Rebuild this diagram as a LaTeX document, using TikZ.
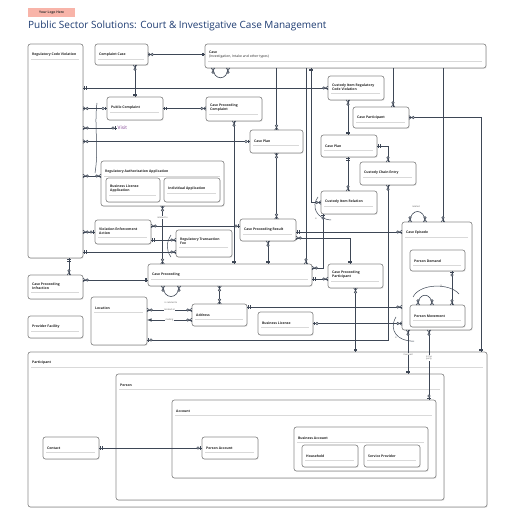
\documentclass[tikz,border=0pt]{standalone}
\usepackage{fontspec}
\setmainfont{Open Sans}
\usetikzlibrary{calc,shadows}

\definecolor{boxgray}{HTML}{8C8C8C}
\definecolor{linkgray}{HTML}{3E4756}
\definecolor{rulegray}{HTML}{D9D9D9}
\definecolor{titleblue}{HTML}{1E3C72}
\definecolor{logopink}{HTML}{F8B4A9}
\definecolor{visitpurple}{HTML}{7B3B8E}

%	crow's foot ends
\pgfarrowsdeclare{erone}{erone}
{\pgfarrowsleftextend{-3.5pt}\pgfarrowsrightextend{0pt}}
{\pgfsetdash{}{0pt}
 \pgfpathmoveto{\pgfpoint{-1.5pt}{1.7pt}}\pgfpathlineto{\pgfpoint{-1.5pt}{-1.7pt}}
 \pgfpathmoveto{\pgfpoint{-2.8pt}{1.7pt}}\pgfpathlineto{\pgfpoint{-2.8pt}{-1.7pt}}
 \pgfusepathqstroke}
\pgfarrowsdeclare{erzone}{erzone}
{\pgfarrowsleftextend{-5.5pt}\pgfarrowsrightextend{0pt}}
{\pgfsetdash{}{0pt}
 \pgfpathmoveto{\pgfpoint{-1.5pt}{1.7pt}}\pgfpathlineto{\pgfpoint{-1.5pt}{-1.7pt}}
 \pgfusepathqstroke
 \pgfsetfillcolor{white}
 \pgfpathcircle{\pgfpoint{-4pt}{0pt}}{1.2pt}
 \pgfusepathqfillstroke}
\pgfarrowsdeclare{erzmany}{erzmany}
{\pgfarrowsleftextend{-5.8pt}\pgfarrowsrightextend{0pt}}
{\pgfsetdash{}{0pt}
 \pgfpathmoveto{\pgfpoint{0pt}{1.8pt}}\pgfpathlineto{\pgfpoint{-2.6pt}{0pt}}
 \pgfpathlineto{\pgfpoint{0pt}{-1.8pt}}
 \pgfusepathqstroke
 \pgfsetfillcolor{white}
 \pgfpathcircle{\pgfpoint{-4.2pt}{0pt}}{1.2pt}
 \pgfusepathqfillstroke}

%	entity box: name, left, top, right, bottom, text
\newcommand{\erbox}[6]{%
  \node[erbox, anchor=north west, minimum width={#4-#2}, minimum height={#5-#3}] (#1) at (#2,#3) {};
  \node[ername, anchor=west] (#1-name) at ([xshift=4, yshift=-11]#1.north west) {#6};
  \draw[errule] ($(#1-name.south west)+(-1,2.4)$) -- ($(#1-name.south -| #1.east)+(-4,2.4)$);
}

\begin{document}
\begin{tikzpicture}[x=1pt, y=-1pt,
  erbox/.style={draw=boxgray, line width=0.7, fill=white, rounded corners=2.5,
    drop shadow={shadow xshift=0.7pt, shadow yshift=-0.9pt, fill=black!18},
    outer sep=0, inner sep=0},
  ername/.style={font=\fontsize{3.4}{4.1}\selectfont\bfseries, text=black!85, inner sep=0, align=left},
  errule/.style={draw=rulegray, line width=0.4},
  erlink/.style={draw=linkgray, line width=0.6},
  xarc/.style={draw=linkgray, line width=0.5},
  linklabel/.style={font=\fontsize{2.3}{2.7}\selectfont, text=black!65, fill=white, inner sep=0.3, align=center}]

\useasboundingbox[fill=white] (0,0) rectangle (516,516);

%	header
\node[fill=logopink, anchor=north west, minimum width=47, minimum height=9, inner sep=0] (logo) at (28,8) {};
\node[font=\fontsize{3.3}{4}\selectfont\bfseries, text=black!80, inner sep=0] (logo-text) at (logo.center) {Your Logo Here};
\node[anchor=base west, inner sep=0, font=\fontsize{10}{12}\selectfont, text=titleblue] (title) at (28,29)
  {Public Sector Solutions: Court \& Investigative Case Management};

%	entities
\erbox{rcv}{28}{44}{83}{258}{Regulatory Code Violation}
\erbox{cc}{95}{44}{148}{65}{Complaint Case}
\erbox{case}{205}{44}{486}{68}{Case\\\mdseries(Investigation, Intake and other types)}
\erbox{pc}{107}{97}{163}{120}{Public Complaint}
\erbox{cpc}{206}{97}{262}{121}{Case Proceeding\\Complaint}
\erbox{circv}{328}{76}{384}{100}{Custody Item Regulatory\\Code Violation}
\erbox{cpart}{353}{107}{409}{128}{Case Participant}
\erbox{plan}{250}{130}{303}{153}{Case Plan}
\erbox{item}{321}{135}{377}{157}{Case Plan}
\erbox{cce}{360}{162}{416}{185}{Custody Chain Entry}
\erbox{cir}{321}{191}{377}{214}{Custody Item Relation}
\erbox{raa}{101}{161}{224}{206}{Regulatory Authorization Application}
\erbox{bla}{106}{178}{160}{202}{Business License\\Application}
\erbox{ia}{164}{178}{220}{202}{Individual Application}
\erbox{vea}{95}{220}{151}{244}{Violation Enforcement\\Action}
\erbox{rtf}{176}{230}{232}{257}{Regulatory Transaction\\Fee}
\erbox{cpr}{240}{219}{296}{241}{Case Proceeding Result}
\erbox{cp}{148}{264}{312}{286}{Case Proceeding}
\erbox{cpp}{328}{264}{383}{288}{Case Proceeding\\Participant}
\erbox{cpi}{28}{275}{83}{299}{Case Proceeding\\Infraction}
\erbox{loc}{91}{297}{147}{345}{Location}
\erbox{addr}{192}{304}{247}{326}{Address}
\erbox{bl}{258}{312}{313}{335}{Business License}
\erbox{pf}{28}{316}{83}{338}{Provider Facility}
\erbox{ce}{402}{222}{472}{330}{Case Episode}
\erbox{pd}{410}{250}{465}{271}{Person Demand}
\erbox{pm}{410}{305}{465}{327}{Person Movement}
\erbox{part}{28}{352}{487}{507}{Participant}
\erbox{person}{116}{374}{444}{500}{Person}
\erbox{acct}{172}{400}{436}{478}{Account}
\erbox{contact}{43}{437}{99}{459}{Contact}
\erbox{pacct}{202}{437}{258}{459}{Person Account}
\erbox{bacct}{294}{427}{428}{471}{Business Account}
\erbox{hh}{302}{445}{358}{467}{Household}
\erbox{sp}{364}{445}{420}{467}{Service Provider}

\node[anchor=west, inner sep=0.5, font=\fontsize{4.8}{5.2}\selectfont, text=visitpurple] (visit) at (117,128) {Visit};

%	links, left part
\draw[erlink, erzmany-erone] (cc.east) -- (cc.east -| case.west);
\draw[erlink, erzmany-erzmany] ([xshift=8]case.south west) .. controls +(0,13) and +(0,13) .. ([xshift=23]case.south west);
\draw[erlink, erzmany-erone] (pc.north |- cc.south) -- (pc.north);
\draw[erlink, erone-erzmany] (circv.west -| rcv.east) -- (circv.west);
\draw[erlink, erone-erzmany] (pc.east) -- (pc.east -| cpc.west);
\draw[erlink, erzmany-erzone] (pc.west -| rcv.east) -- (pc.west);
\draw[erlink, erzmany-erzone] (visit.west -| rcv.east) -- (visit.west);
\draw[erlink, erzmany-erzone] (plan.west -| rcv.east) -- (plan.west);
\coordinate (raa-in) at ([yshift=-15]raa.north west);
\draw[erlink, erzmany-erzmany] (raa-in -| rcv.east) -- (raa-in);
\draw[xarc] (97,103) .. controls (94,125) and (99,150) .. (95,173);
\draw[erlink, erzmany-erzone] (vea.west -| rcv.east) -- (vea.west);
\coordinate (rtf-in1) at ([yshift=-10]rtf.north west);
\coordinate (rtf-in2) at ([yshift=-22]rtf.north west);
\draw[erlink, erone-erzmany] (rtf-in1 -| vea.east) -- (rtf-in1);
\draw[erlink, erone-erzmany] (rtf-in2 -| rcv.east) -- (rtf-in2);
\draw[xarc] (171,235) .. controls (166,243) and (166,250) .. (171,257);
\coordinate (cpr-in) at ([yshift=-7]cpr.north west);
\draw[erlink, erzmany-erzone] (cpr-in -| vea.east) -- (cpr-in);
\draw[erlink, erzmany-erzmany] (raa.south) -- node[linklabel, pos=0.2] (lbl-raa) {related to} (raa.south |- cp.north);
\draw[erlink, erzmany-erone] (cpc.south) -- (cpc.south |- cp.north);

%	links from case
\draw[erlink, -erzmany] (plan.north |- case.south) -- (plan.north);
\draw[erlink, erzmany-erzmany] (plan.south) -- (plan.south |- cpr.north);
\draw[erlink, erzmany-erone] (cpr.south) -- (cpr.south |- cp.north);
\coordinate (case-a) at ([xshift=101]case.south west);
\coordinate (case-b) at ([xshift=106]case.south west);
\draw[erlink, -erzmany] (case-a) -- (case-a |- cp.north);
\draw[erlink, erone-erzmany] (case-b) -- (case-b |- cir.west) -- (cir.west);
\draw[xarc] (318,197) .. controls (311,206) and (316,219) .. (331,220);
\node[linklabel, fill=none] (lbl-cir) at (316,219) {is};
\coordinate (cir-out) at ([xshift=2]cir.south west);
\draw[erlink, erzone-erzmany] (cir-out) |- ([yshift=-4]cp.north east);
\coordinate (cpart-top) at ([xshift=40]cpart.north west);
\draw[erlink, -erzmany] (cpart-top |- case.south) -- (cpart-top);
\draw[erlink, erzmany-erone] (cpart.east) -| ([xshift=453]part.north west);
\coordinate (ce-top) at ([xshift=41]ce.north west);
\draw[erlink, -erzmany] (ce-top |- case.south) -- (ce-top);

%	custody items
\coordinate (item-top) at ([xshift=27]item.north west);
\coordinate (item-bot) at ([xshift=27]item.south west);
\draw[erlink, erzmany-erone] (item-top |- circv.south) -- (item-top);
\draw[erlink, erone-erzmany] (item-bot) -- (item-bot |- cir.north);
\draw[erlink, erone-erzmany] (item.east) -| ([xshift=28]cce.north west);
\coordinate (cce-out) at ([xshift=28]cce.south west);
\coordinate (loc-out) at ([yshift=5]loc.south east);
\draw[erlink, erzone-erzmany] (loc-out) -| (cce-out);

%	case proceeding
\coordinate (ce-in1) at ([yshift=-10]ce.north west);
\draw[erlink, erone-erzmany] (ce-in1 -| cpr.east) -- (ce-in1);
\coordinate (cpr-out) at ([yshift=3]cpr.south east);
\draw[erlink, erzmany-erone] (cpr-out) -| ([xshift=22]cpp.north west);
\coordinate (cpp-in) at ([yshift=-15]cpp.north west);
\draw[erlink, erone-erzmany] (cpp-in -| cp.east) -- (cpp-in);
\draw[erlink, erzmany-erone] (cpp.south) -- (cpp.south |- part.north);
\coordinate (cpi-out) at ([xshift=41]cpi.north west);
\draw[erlink, erzmany-erone] (cpi-out) -- (cpi-out |- rcv.south);
\coordinate (cp-in) at ([yshift=-16]cp.north west);
\draw[erlink, erzmany-erone] (cp-in -| cpi.east) -- (cp-in);
\draw[erlink, erzmany-erzmany] ([xshift=15]cp.south west) .. controls +(0,14) and +(0,14) .. ([xshift=31]cp.south west);
\node[linklabel] (lbl-cp) at (171,303) {is related to};
\draw[erlink, erzmany-erzmany] (addr.north |- cp.south) -- (addr.north);

%	location and address
\coordinate (addr-in1) at ([yshift=-6]addr.north west);
\coordinate (addr-in2) at ([yshift=-16]addr.north west);
\draw[erlink, erzmany-erzmany] (addr-in1 -| loc.east) -- node[linklabel] (lbl-loc1) {located at} (addr-in1);
\draw[erlink, latex-erzmany] (addr-in2 -| loc.east) -- node[linklabel] (lbl-loc2) {mailing} (addr-in2);
\coordinate (ce-in2) at ([yshift=-85]ce.north west);
\draw[erlink, erone-erzmany] (ce-in2 -| addr.east) -- (ce-in2);
\draw[erlink, erzone-erzmany] (bl.east) -- (bl.east -| ce.west);
\draw[xarc] (396,317) .. controls (388,330) and (398,342) .. (414,341);
\node[linklabel, fill=none] (lbl-ce1) at (396,338) {is};

%	case episode
\draw[erlink, erzmany-erzmany] ([xshift=8]ce.north west) .. controls +(0,-14) and +(0,-14) .. ([xshift=23]ce.north west);
\node[linklabel, fill=none] (lbl-ce2) at (416,207) {related};
\coordinate (pd-bot) at ([xshift=42]pd.south west);
\draw[erlink, erzone-erzmany] (pd-bot) -- (pd-bot |- pm.north);
\draw[erlink, erzmany-erzmany] ([xshift=8]pm.north west) .. controls +(0,-13) and +(0,-13) .. ([xshift=22]pm.north west);
\draw[xarc] (413,297) .. controls (420,283) and (450,283) .. (459,294);
\node[linklabel, fill=none] (lbl-pm) at (441,286) {is};
\coordinate (ce-b1) at ([xshift=6]ce.south west);
\coordinate (ce-b2) at ([xshift=27]ce.south west);
\draw[erlink, erzmany-erone] (ce-b1) -- node[linklabel, pos=0.55] (lbl-inv) {involved} (ce-b1 |- person.north);
\draw[erlink, erzmany-erzone] (ce-b2) -- node[linklabel, pos=0.4] (lbl-party) {is the\\party} (ce-b2 |- acct.north);

%	participant
\draw[erlink, erone-erzone] (contact.east) -- (contact.east -| pacct.west);
\end{tikzpicture}
\end{document}
